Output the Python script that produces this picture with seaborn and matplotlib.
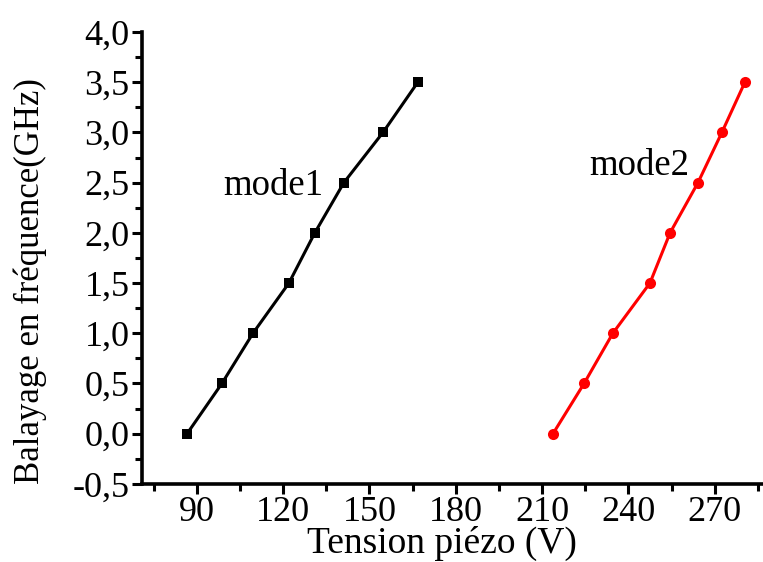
import matplotlib
matplotlib.use("Agg")
import matplotlib.pyplot as plt
import seaborn as sns
from matplotlib.ticker import MultipleLocator, FuncFormatter

# values
mode1_x = [86.6, 98.7, 109.5, 122.0, 131.0, 141.1, 154.7, 166.8]
mode1_y = [0.0, 0.5, 1.0, 1.5, 2.0, 2.5, 3.0, 3.5]
mode2_x = [213.8, 224.6, 234.6, 247.5, 254.5, 264.2, 272.5, 280.5]
mode2_y = [0.0, 0.5, 1.0, 1.5, 2.0, 2.5, 3.0, 3.5]

sns.set_style("ticks")
plt.rcParams['font.family'] = ['Liberation Serif', 'DejaVu Serif']
plt.rcParams['text.color'] = 'black'
plt.rcParams['axes.labelcolor'] = 'black'

fig = plt.figure(figsize=(7.63, 5.62), dpi=100)
ax = fig.add_axes([0.186, 0.139, 0.814, 0.804])

sns.lineplot(x=mode1_x, y=mode1_y, ax=ax, color='black', marker='s',
             markersize=7, markeredgewidth=0, linewidth=2.2, sort=False)
sns.lineplot(x=mode2_x, y=mode2_y, ax=ax, color='red', marker='o',
             markersize=8, markeredgewidth=0, linewidth=2.2, sort=False)

ax.text(99.0, 2.47, 'mode1', fontsize=26.5, va='center', ha='left')
ax.text(226.3, 2.67, 'mode2', fontsize=26.5, va='center', ha='left')

ax.set_xlim(70.9, 286.8)
ax.set_ylim(-0.5, 4.0)
ax.xaxis.set_major_locator(MultipleLocator(30))
ax.xaxis.set_minor_locator(MultipleLocator(15))
ax.yaxis.set_major_locator(MultipleLocator(0.5))
ax.yaxis.set_minor_locator(MultipleLocator(0.25))
ax.yaxis.set_major_formatter(FuncFormatter(lambda v, p: f"{v:.1f}".replace('.', ',')))
ax.xaxis.set_major_formatter(FuncFormatter(lambda v, p: f"{v:.0f}"))

for s in ['top', 'right']:
    ax.spines[s].set_visible(False)
for s in ['left', 'bottom']:
    ax.spines[s].set_linewidth(2.6)
    ax.spines[s].set_color('black')

ax.tick_params(which='major', direction='out', length=7, width=2.2, labelsize=26, pad=2,
               colors='black', labelcolor='black')
ax.tick_params(which='minor', direction='out', length=5, width=2.2, colors='black')

ax.set_xlabel('Tension piézo (V)', fontsize=27)
ax.set_ylabel('Balayage en fréquence(GHz)', fontsize=25)
ax.xaxis.set_label_coords(0.483, -0.094)
ax.yaxis.set_label_coords(-0.153, 0.449)

fig.savefig('out.png', dpi=100)
